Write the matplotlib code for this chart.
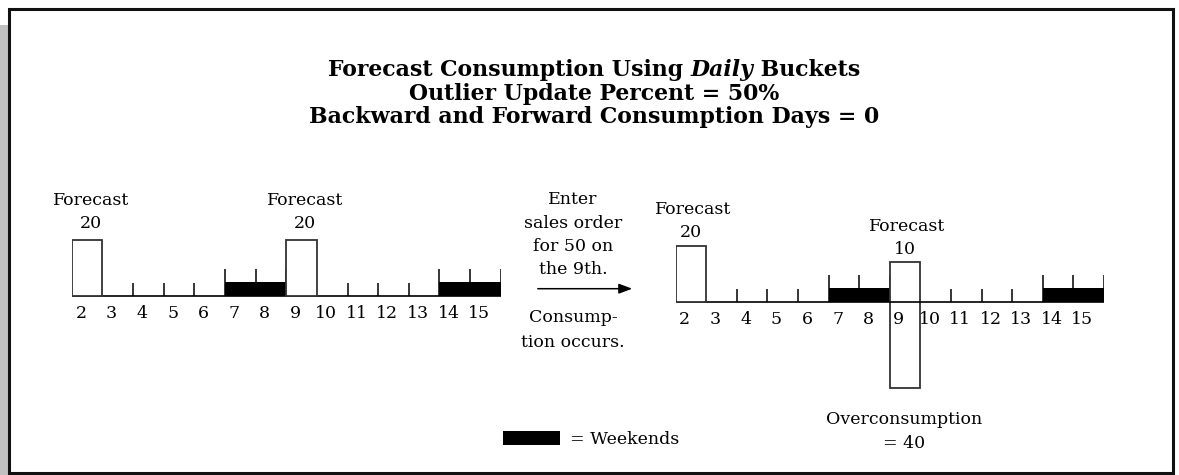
import matplotlib
matplotlib.use("Agg")
import matplotlib.pyplot as plt
from matplotlib.patches import Rectangle, FancyArrowPatch

# ---- data ----
days = list(range(2, 16))
weekend_days = [7, 8, 14, 15]
small_ticks = [3.5, 4.5, 5.5, 10.5, 11.5, 12.5]
tall_ticks = [6.5, 7.5, 8.5, 13.5, 14.5, 15.5]

before_days = [2, 9]
before_heights = [20, 20]
before_labels = ["20", "20"]

after_days = [2, 9]
after_heights = [20, 14]          # drawn box heights
after_labels = ["20", "10"]
over_day = 9
over_height = -31                 # overconsumption box below the line

W, H = 1179, 475
SERIF = ["DejaVu Serif"]
FS = 12.5

fig = plt.figure(figsize=(W / 100, H / 100), dpi=100)

# overlay axes in pixel coordinates for frame and free text
bg = fig.add_axes([0, 0, 1, 1])
bg.set_xlim(0, W)
bg.set_ylim(H, 0)
bg.axis("off")
bg.add_patch(Rectangle((0, 25), 8, H - 25, color="#c0c0c0", lw=0))
bg.add_patch(Rectangle((9, 9), 1164, 464, fill=False, ec="#111111", lw=2.2))


def panel(x0, base_y, unit_w=30.65, px_per_unit=2.8, ytop=25, ybot=-35):
    # axes spanning days 1.5..15.5, y in quantity units
    left = x0
    width = unit_w * 14
    top = base_y - ytop * px_per_unit
    height = (ytop - ybot) * px_per_unit
    ax = fig.add_axes([left / W, 1 - (top + height) / H, width / W, height / H])
    ax.set_xlim(1.5, 15.5)
    ax.set_ylim(ybot, ytop)
    ax.axis("off")
    ax.patch.set_alpha(0)
    ax.plot([1.5, 15.5], [0, 0], color="black", lw=1.2, solid_capstyle="butt")
    ax.bar(weekend_days, 5, width=1, bottom=0, color="black", lw=0)
    ax.vlines(small_ticks, 0, 4.6, color="black", lw=1.1)
    ax.vlines(tall_ticks, 0, 9.6, color="black", lw=1.1)
    for d in days:
        ax.text(d - 0.2, -6.4, str(d), ha="center", va="center",
                fontsize=FS, family=SERIF, zorder=6)
    return ax


# ---- left timeline (before) ----
axL = panel(71.7, 295.7)
axL.bar(before_days, before_heights, width=1, color="white",
        edgecolor="#333333", lw=1.3, zorder=3)
for d, h, lab in zip(before_days, before_heights, before_labels):
    axL.text(d + 0.12, h + 5.7, lab, ha="center", va="center", fontsize=FS, family=SERIF)
    axL.text(d + 0.12, h + 13.9, "Forecast", ha="center", va="center", fontsize=FS, family=SERIF)

# ---- right timeline (after) ----
axR = panel(675.5, 301.5, unit_w=30.6)
axR.bar([over_day], [after_heights[1] - over_height], bottom=over_height, width=1,
        color="white", edgecolor="#333333", lw=1.3, zorder=3)
axR.bar(after_days[:1], after_heights[:1], width=1, color="white",
        edgecolor="#333333", lw=1.3, zorder=3)
axR.plot([8.5, 9.5], [0, 0], color="black", lw=1.2, zorder=4)
for d, h, lab in zip(after_days, after_heights, after_labels):
    axR.text(d, h + 4.6, lab, ha="center", va="center", fontsize=FS, family=SERIF)
    axR.text(d + 0.08, h + 12.9, "Forecast", ha="center", va="center", fontsize=FS, family=SERIF)

# ---- titles ----
renderer = fig.canvas.get_renderer()
TFS = 15.8
parts = [("Forecast Consumption Using ", "normal"), ("Daily", "italic"), (" Buckets", "normal")]
objs = []
for s, st in parts:
    t = bg.text(0, 70, s, ha="left", va="center", fontsize=TFS, fontweight="bold",
                style=st, family=SERIF)
    objs.append(t)
widths = [t.get_window_extent(renderer).width for t in objs]
x = 594 - sum(widths) / 2
for t, w in zip(objs, widths):
    t.set_x(x)
    x += w
bg.text(594, 94, "Outlier Update Percent = 50%", ha="center", va="center",
        fontsize=TFS, fontweight="bold", family=SERIF)
bg.text(594, 117, "Backward and Forward Consumption Days = 0", ha="center", va="center",
        fontsize=TFS, fontweight="bold", family=SERIF)

# ---- middle annotation ----
for s, y in [("Enter", 200), ("sales order", 223), ("for 50 on", 246.5), ("the 9th.", 270),
             ("Consump-", 318), ("tion occurs.", 342.5)]:
    bg.text(573, y, s, ha="center", va="center", fontsize=FS, family=SERIF)
bg.add_patch(FancyArrowPatch((535, 288.7), (635, 288.7), arrowstyle="-|>,head_length=8,head_width=3",
                             mutation_scale=1, color="black", lw=1.1))

# ---- overconsumption and legend ----
bg.text(904, 420, "Overconsumption", ha="center", va="center", fontsize=FS, family=SERIF)
bg.text(904, 443, "= 40", ha="center", va="center", fontsize=FS, family=SERIF)
bg.add_patch(Rectangle((503, 431), 57, 14, color="black", lw=0))
bg.text(570, 440, "= Weekends", ha="left", va="center", fontsize=FS, family=SERIF)

fig.savefig("out.png", dpi=100)
